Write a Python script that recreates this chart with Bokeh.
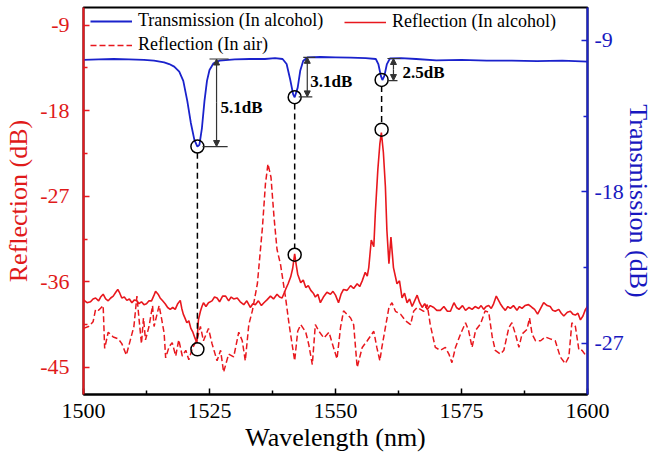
from bokeh.plotting import figure
from bokeh.models import (Range1d, LinearAxis, FixedTicker, Legend, LegendItem,
                          Arrow, NormalHead, ColumnDataSource)
from bokeh.core.properties import value
from bokeh.embed import file_html
from bokeh.resources import INLINE

# ---------------- data ----------------
trans_wl = [1500, 1503, 1506, 1509, 1512, 1514, 1516, 1517, 1518, 1519, 1519.8, 1520.6, 1521.3,
            1522.0, 1522.6, 1523.0, 1523.5, 1524.0, 1524.5, 1525.0, 1525.8, 1527, 1530, 1533,
            1536, 1538, 1539.5, 1540.3, 1541.0, 1541.6, 1541.9, 1542.5, 1543.0, 1543.6, 1544.5,
            1547, 1550, 1553, 1556, 1558, 1558.5, 1559.0, 1559.3, 1559.7, 1560.2, 1560.8, 1563,
            1566, 1570, 1575, 1580, 1585, 1590, 1595, 1600]
trans_db = [-10.15, -10.12, -10.10, -10.12, -10.15, -10.2, -10.3, -10.4, -10.55, -10.85, -11.4,
            -12.6, -13.9, -14.9, -15.3, -15.2, -14.2, -12.6, -11.4, -10.75, -10.35, -10.2, -10.12,
            -10.1, -10.1, -10.05, -10.1, -10.4, -11.3, -12.2, -12.37, -11.8, -10.8, -10.2, -10.0,
            -9.98, -10.0, -10.02, -10.05, -10.1, -10.4, -11.1, -11.35, -11.1, -10.4, -10.07,
            -10.05, -10.1, -10.18, -10.15, -10.2, -10.2, -10.22, -10.2, -10.25]

refl_alc_wl = [1500, 1500.7, 1501.4, 1501.9, 1502.4, 1503.0, 1503.4, 1503.9, 1504.4, 1504.9,
               1505.4, 1505.9, 1506.4, 1506.8, 1507.2, 1507.6, 1508.1, 1508.6, 1509.1, 1509.6,
               1510.1, 1510.6, 1511.0, 1511.5, 1512.0, 1512.5, 1513.0, 1513.5, 1514.0, 1514.3,
               1514.8, 1515.2, 1515.7, 1516.2, 1516.7, 1517.2, 1517.7, 1518.2, 1518.7, 1519.2,
               1519.5, 1519.8, 1520.2, 1520.5, 1520.9, 1521.3, 1521.7, 1522.1, 1522.5, 1522.8,
               1523.2, 1523.5, 1523.8, 1524.3, 1524.8, 1525.5, 1526.0, 1526.5, 1527.0, 1527.6,
               1528.2, 1528.8, 1529.3, 1529.8, 1530.5, 1531.1, 1531.8, 1532.4, 1533.1, 1533.6,
               1534.1, 1534.7, 1535.3, 1535.8, 1536.4, 1537.1, 1537.7, 1538.4, 1538.9, 1539.4,
               1540.1, 1540.6, 1541.1, 1541.5, 1541.9, 1542.2, 1542.5, 1543.1, 1543.6, 1544.1,
               1544.6, 1545.1, 1545.6, 1546.0, 1546.5, 1547.0, 1547.6, 1548.3, 1549.0, 1549.5,
               1550.0, 1550.6, 1551.1, 1551.6, 1552.3, 1553.0, 1553.6, 1554.3, 1554.8, 1555.3,
               1555.9, 1556.3, 1556.6, 1557.1, 1557.6, 1557.9, 1558.4, 1558.8, 1559.1, 1559.5,
               1559.9, 1560.2, 1560.6, 1561.0, 1561.5, 1562.2, 1562.7, 1563.2, 1563.7, 1564.2,
               1564.7, 1565.2, 1565.7, 1566.2, 1566.7, 1567.2, 1567.7, 1568.2, 1568.8, 1569.5,
               1570.1, 1570.8, 1571.5, 1572.2, 1572.8, 1573.5, 1574.0, 1574.5, 1575.2, 1575.8,
               1576.5, 1577.1, 1577.7, 1578.4, 1578.9, 1579.4, 1579.9, 1580.4, 1580.9, 1581.3,
               1581.9, 1582.3, 1582.7, 1583.2, 1583.7, 1584.2, 1584.7, 1585.3, 1586.0, 1586.5,
               1587.0, 1587.6, 1588.3, 1589.0, 1589.5, 1590.1, 1590.7, 1591.3, 1592.0, 1592.6,
               1593.1, 1593.6, 1594.3, 1594.8, 1595.3, 1596.0, 1596.6, 1597.1, 1597.6, 1598.1,
               1598.6, 1599.1, 1599.6, 1600]
refl_alc_db = [-37.9, -38.2, -38.1, -37.8, -37.7, -38.0, -37.6, -37.3, -37.8, -38.0,
               -37.7, -37.5, -37.1, -36.8, -37.2, -37.7, -37.6, -37.95, -37.8, -38.2,
               -37.9, -38.0, -38.3, -38.1, -38.4, -38.3, -38.0, -38.0, -37.4, -37.0,
               -37.3, -37.7, -38.0, -38.3, -38.7, -38.9, -38.7, -38.9, -38.3, -37.95,
               -38.8, -39.4, -39.9, -40.3, -40.1, -40.9, -41.3, -41.9, -42.4, -40.0,
               -39.1, -38.6, -38.2, -38.6, -38.2, -38.0, -37.6, -37.7, -38.1, -37.5,
               -37.5, -38.0, -37.6, -37.8, -37.7, -38.1, -38.4, -38.0, -38.7, -38.3,
               -38.4, -38.0, -38.5, -38.2, -37.9, -37.5, -37.8, -37.3, -37.6, -37.7,
               -36.8, -36.2, -35.5, -34.6, -33.05, -34.2, -35.2, -36.1, -35.8, -36.6,
               -36.4, -36.9, -37.2, -37.6, -37.3, -38.2, -37.6, -37.1, -37.3, -37.0,
               -37.4, -38.2, -37.3, -36.8, -36.9, -36.4, -36.7, -36.2, -36.5, -35.9,
               -35.0, -35.4, -34.5, -31.6, -32.3, -28.8, -24.2, -21.5, -20.3, -22.4,
               -26.0, -30.6, -34.1, -31.3, -34.5, -36.2, -35.9, -37.7, -37.2, -38.2,
               -37.8, -38.6, -38.0, -37.4, -38.2, -38.7, -38.3, -38.9, -38.5, -38.7,
               -39.0, -39.0, -38.6, -39.1, -39.1, -38.2, -38.7, -38.9, -38.5, -39.0,
               -38.7, -38.9, -38.6, -38.8, -38.5, -38.9, -38.6, -38.5, -38.8, -38.4,
               -37.5, -37.9, -38.3, -38.7, -39.0, -38.6, -38.8, -38.5, -39.0, -38.6,
               -38.8, -38.5, -38.4, -38.7, -38.9, -39.4, -38.8, -38.2, -38.5, -38.6,
               -39.0, -39.1, -38.9, -39.3, -39.6, -39.2, -39.1, -39.4, -39.5, -39.3,
               -40.0, -39.6, -38.9, -38.6]

refl_air_wl = [1500, 1501.0, 1501.9, 1502.4, 1503.0, 1503.9, 1504.2, 1504.9, 1505.9, 1506.9,
               1507.6, 1508.5, 1509.3, 1510.0, 1510.6, 1511.0, 1511.5, 1511.9, 1512.3, 1513.0,
               1513.7, 1514.0, 1515.0, 1515.5, 1516.0, 1516.3, 1517.0, 1517.6, 1518.3, 1518.9,
               1519.6, 1520.3, 1520.9, 1521.6, 1522.5, 1523.2, 1523.8, 1524.8, 1525.5, 1526.5,
               1527.2, 1527.8, 1528.8, 1529.8, 1530.8, 1531.5, 1532.1, 1532.8, 1533.5, 1534.5,
               1535.5, 1536.1, 1536.6, 1537.2, 1537.8, 1538.4, 1539.1, 1540.1, 1540.8, 1541.4,
               1541.9, 1542.5, 1543.1, 1544.1, 1544.7, 1545.4, 1546.0, 1546.7, 1547.7, 1548.7,
               1549.6, 1550.3, 1551.0, 1551.6, 1553.0, 1553.6, 1554.3, 1555.3, 1556.3, 1557.6,
               1558.2, 1558.8, 1559.2, 1559.9, 1560.6, 1561.2, 1561.9, 1562.9, 1563.9, 1564.9,
               1565.5, 1566.2, 1567.5, 1568.2, 1568.8, 1569.8, 1570.8, 1571.8, 1572.5, 1573.1,
               1573.8, 1574.8, 1575.8, 1576.4, 1577.1, 1577.8, 1578.8, 1579.7, 1580.4, 1581.1,
               1581.7, 1582.7, 1583.4, 1584.4, 1585.0, 1585.7, 1586.4, 1587.0, 1588.0, 1588.5,
               1589.0, 1589.7, 1590.7, 1591.6, 1592.6, 1593.6, 1594.6, 1595.6, 1596.3, 1596.9,
               1597.6, 1598.3, 1598.9, 1599.6, 1600]
refl_air_db = [-40.9, -40.7, -40.2, -38.9, -39.0, -38.5, -43.0, -41.3, -41.8, -42.0,
               -42.5, -43.7, -42.1, -40.7, -37.5, -39.8, -42.5, -39.8, -42.1, -40.7,
               -38.5, -40.7, -38.5, -39.9, -41.4, -44.0, -42.8, -42.4, -43.8, -42.1,
               -43.8, -43.2, -44.2, -43.0, -42.1, -40.7, -42.2, -40.9, -42.5, -44.3,
               -43.2, -45.5, -43.6, -43.9, -41.3, -42.2, -44.3, -40.5, -39.05, -36.2,
               -30.3, -25.7, -23.6, -25.0, -29.2, -32.6, -34.2, -37.7, -40.5, -42.6,
               -44.3, -41.2, -40.5, -41.3, -42.6, -44.7, -40.5, -41.2, -41.9, -41.3,
               -42.9, -44.1, -40.8, -39.05, -39.8, -40.5, -45.0, -42.9, -42.2, -41.2,
               -42.9, -44.3, -42.9, -40.8, -38.7, -38.2, -39.1, -39.4, -40.1, -40.5,
               -39.1, -38.7, -39.1, -38.4, -40.5, -42.9, -43.2, -42.9, -43.6, -44.5,
               -42.9, -41.5, -40.3, -41.1, -42.9, -41.1, -40.4, -39.05, -39.2, -41.8,
               -43.2, -43.6, -43.2, -40.8, -40.3, -41.5, -42.9, -41.5, -41.0, -39.8,
               -41.5, -42.2, -42.2, -41.8, -42.0, -42.2, -43.9, -44.6, -43.9, -40.3,
               -40.7, -43.2, -43.2, -43.7, -43.5]

# marked features
mark_wl = [1522.6, 1541.9, 1559.15]
mark_trans = [-15.3, -12.37, -11.34]
mark_refl = [-43.1, -33.15, -20.0]

# dip-depth annotations
dim_labels = ["5.1dB", "3.1dB", "2.5dB"]
dim_x = [1526.4, 1544.4, 1561.5]
dim_top = [-10.1, -10.0, -10.07]
dim_bot = [-15.3, -12.35, -11.38]
dim_top_x0 = [1525.0, 1543.6, 1560.3]
dim_top_x1 = [1528.8, 1546.0, 1562.9]
dim_bot_x0 = [1523.6, 1542.7, 1560.3]
dim_bot_x1 = [1528.6, 1545.4, 1562.3]
lab_x = [1527.2, 1545.0, 1563.3]
lab_y = [-12.98, -11.45, -10.9]

x_ticks = [1500, 1525, 1550, 1575, 1600]
x_minor = [1512.5, 1537.5, 1562.5, 1587.5]
refl_ticks = [-45, -36, -27, -18, -9]
refl_minor = [-40.5, -31.5, -22.5, -13.5]
trans_ticks = [-27, -18, -9]
trans_minor = [-22.5, -13.5]

# ---------------- styling ----------------
FONT = "'Liberation Serif', 'Times New Roman', Times, serif"
RED = "#e8171d"
RED_TXT = "#e01a1a"
BLUE = "#1a22cc"
BLUE_TXT = "#1818c0"

L0, L1 = -47.85, -7.15
T0, T1 = -30.03, -7.04


def t2r(t):
    return L0 + (t - T0) * (L1 - L0) / (T1 - T0)


p = figure(width=655, height=462, x_range=Range1d(1500, 1600), y_range=Range1d(L0, L1),
           output_backend="svg", toolbar_location=None,
           min_border_left=83, min_border_right=68, min_border_top=7, min_border_bottom=68)
p.extra_y_ranges = {"trans": Range1d(T0, T1)}
p.grid.visible = False
p.outline_line_color = "black"
p.outline_line_width = 2
p.background_fill_color = "white"

# axes
xa = p.xaxis[0]
xa.ticker = FixedTicker(ticks=x_ticks, minor_ticks=x_minor)
xa.axis_label = "Wavelength (nm)"
ya = p.yaxis[0]
ya.ticker = FixedTicker(ticks=refl_ticks, minor_ticks=refl_minor)
ya.axis_label = "Reflection (dB)"
ya.major_label_overrides = {t: str(t) for t in refl_ticks}
ra = LinearAxis(y_range_name="trans", axis_label="Transmission (dB)",
                ticker=FixedTicker(ticks=trans_ticks, minor_ticks=trans_minor))
ra.major_label_overrides = {t: str(t) for t in trans_ticks}
p.add_layout(ra, "right")

for ax, col, tcol in [(xa, "black", "black"), (ya, RED, RED_TXT), (ra, BLUE, BLUE_TXT)]:
    ax.axis_line_color = col
    ax.axis_line_width = 2
    ax.major_tick_line_color = col
    ax.minor_tick_line_color = col
    ax.major_tick_line_width = 1.5
    ax.minor_tick_line_width = 1.5
    ax.major_tick_in = 6
    ax.major_tick_out = 0
    ax.minor_tick_in = 4
    ax.minor_tick_out = 0
    ax.major_label_text_font = FONT
    ax.major_label_text_font_size = "22px"
    ax.major_label_text_color = tcol
    ax.axis_label_text_font = FONT
    ax.axis_label_text_font_size = "26px"
    ax.axis_label_text_font_style = "normal"
    ax.axis_label_text_color = tcol

xa.major_label_standoff = 9
xa.axis_label_standoff = 2
ya.major_label_standoff = 14
ya.axis_label_standoff = 4
ra.major_label_standoff = 7
ra.axis_label_standoff = -3

# curves
r_air = p.line(refl_air_wl, refl_air_db, line_color=RED, line_width=1.5, line_dash="6 3")
r_alc = p.line(refl_alc_wl, refl_alc_db, line_color=RED, line_width=1.6)
r_tr = p.line(trans_wl, trans_db, line_color=BLUE, line_width=1.8, y_range_name="trans")

# connectors between marked points
rad = 0.65
conn = ColumnDataSource(dict(x=mark_wl,
                             y0=[t2r(t) - rad for t in mark_trans],
                             y1=[r + rad for r in mark_refl]))
p.segment(x0="x", y0="y0", x1="x", y1="y1", source=conn, line_color="black",
          line_width=1.5, line_dash="6 4")
p.scatter(mark_wl, mark_trans, marker="circle", size=13, fill_alpha=0,
          line_color="black", line_width=1.5, y_range_name="trans")
p.scatter(mark_wl, mark_refl, marker="circle", size=13, fill_alpha=0,
          line_color="black", line_width=1.5)

# depth markers
p.segment(x0=dim_top_x0, y0=dim_top, x1=dim_top_x1, y1=dim_top, line_color="#333333",
          line_width=1.2, y_range_name="trans")
p.segment(x0=dim_bot_x0, y0=dim_bot, x1=dim_bot_x1, y1=dim_bot, line_color="#333333",
          line_width=1.2, y_range_name="trans")
for xx, yt, yb in zip(dim_x, dim_top, dim_bot):
    p.add_layout(Arrow(x_start=xx, y_start=(yt + yb) / 2, x_end=xx, y_end=yt,
                       end=NormalHead(size=6, fill_color="#333333", line_color="#333333"),
                       line_color="#333333", line_width=1.2, y_range_name="trans"))
    p.add_layout(Arrow(x_start=xx, y_start=(yt + yb) / 2, x_end=xx, y_end=yb,
                       end=NormalHead(size=6, fill_color="#333333", line_color="#333333"),
                       line_color="#333333", line_width=1.2, y_range_name="trans"))
p.text(x=lab_x, y=lab_y, text=dim_labels, text_font=value(FONT), text_font_size="17px",
       text_font_style="bold", text_baseline="middle", text_align="left",
       text_color="black", y_range_name="trans")

# legends
common = dict(label_text_font=FONT, label_text_font_size="18px", label_text_color="black",
              label_standoff=6, glyph_width=42, glyph_height=20, label_height=20,
              spacing=3, padding=0, margin=0, border_line_alpha=0,
              background_fill_alpha=0)
leg1 = Legend(items=[LegendItem(label="Transmission (In alcohol)", renderers=[r_tr]),
                     LegendItem(label="Reflection (In air)", renderers=[r_air])],
              location=(7, 339), **common)
leg2 = Legend(items=[LegendItem(label="Reflection (In alcohol)", renderers=[r_alc])],
              location=(261, 362), **common)
p.add_layout(leg1)
p.add_layout(leg2)

open("out.html", "w").write(file_html(p, INLINE))
